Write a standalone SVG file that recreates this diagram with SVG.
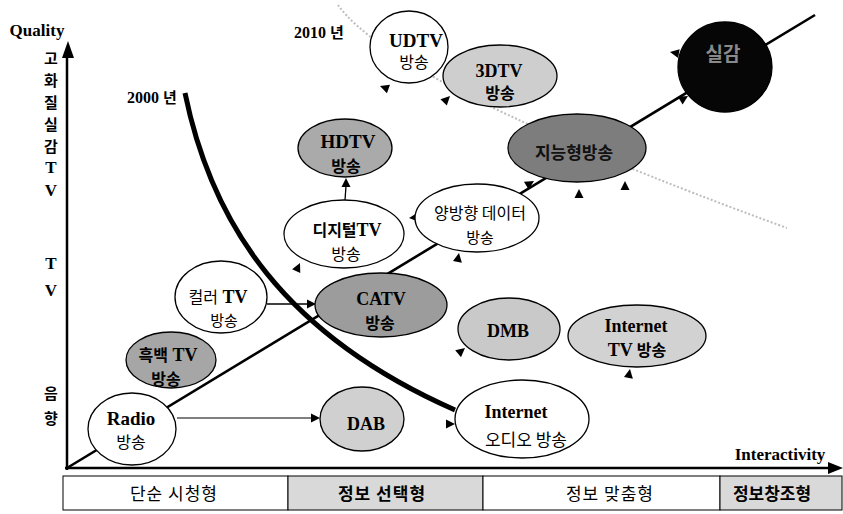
<svg xmlns="http://www.w3.org/2000/svg" width="843" height="514" viewBox="0 0 843 514">
<style>
.e{font-family:"Liberation Serif","Noto Sans CJK KR",serif;font-weight:bold;font-size:18px;fill:#000;text-anchor:middle}
.k{font-family:"Noto Sans CJK KR","Liberation Sans",sans-serif;font-size:16px;fill:#000;text-anchor:middle}
.kb{font-family:"Noto Sans CJK KR","Liberation Sans",sans-serif;font-weight:bold}
.n{stroke:#000;stroke-width:1.3}
.w{fill:#fff}
.ln{fill:none;stroke:#000}
</style>
<defs>
<path id="ah" d="M0,0 L-9,-4.5 L-9,4.5 Z"/>
</defs>
<rect width="843" height="514" fill="#fff"/>

<!-- faint 2010 curve -->
<path d="M338,5 Q395,85 787,228" fill="none" stroke="#bdbdbd" stroke-width="2" stroke-dasharray="2 2"/>

<g id="axes">
<line x1="67" y1="470" x2="67" y2="56" stroke="#000" stroke-width="2.5"/>
<polygon points="68,41 62,58 74,58" fill="#000"/>
<line x1="65" y1="468" x2="828" y2="468" stroke="#000" stroke-width="2.5"/>
<polygon points="843,468 828,462 828,474" fill="#000"/>
<text x="37" y="36" class="e" style="font-size:17px">Quality</text>
<text x="780" y="460" class="e" style="font-size:17px">Interactivity</text>
<g class="kb" style="font-size:15px;text-anchor:middle">
<text x="51" y="64">고</text>
<text x="51" y="86">화</text>
<text x="51" y="108">질</text>
<text x="51" y="130">실</text>
<text x="51" y="152">감</text>
<text x="51" y="399">음</text>
<text x="51" y="424">향</text>
</g>
<g class="e" style="font-size:17px">
<text x="51" y="173">T</text>
<text x="51" y="196">V</text>
<text x="51" y="269">T</text>
<text x="51" y="296">V</text>
</g>
<text x="152" y="103" class="e" style="font-size:16px">2000 <tspan class="kb" style="font-size:15px">년</tspan></text>
<text x="319" y="38" class="e" style="font-size:16px">2010 <tspan class="kb" style="font-size:15px">년</tspan></text>
</g>

<g id="connectors">
<line x1="67" y1="468" x2="815" y2="15" class="ln" stroke-width="2.6"/>
<line x1="267" y1="304" x2="308" y2="304" class="ln" stroke-width="1.3"/>
<use href="#ah" transform="translate(316,304)"/>
<line x1="177" y1="418" x2="312" y2="418" class="ln" stroke-width="1"/>
<use href="#ah" transform="translate(320,418)"/>
<line x1="345" y1="200" x2="346" y2="186" class="ln" stroke-width="1.3"/>
<use href="#ah" transform="translate(346,178) rotate(-90)"/>
<use href="#ah" transform="translate(380,86) rotate(200)"/>
<use href="#ah" transform="translate(450,96) rotate(-45)"/>
<use href="#ah" transform="translate(300,263) rotate(-65)"/>
<use href="#ah" transform="translate(409,218) rotate(175)"/>
<use href="#ah" transform="translate(459,253) rotate(-80)"/>
<use href="#ah" transform="translate(534,181) rotate(-31)"/>
<use href="#ah" transform="translate(579,189) rotate(-90)"/>
<use href="#ah" transform="translate(625,181) rotate(-90)"/>
<use href="#ah" transform="translate(670,52) rotate(190)"/>
<use href="#ah" transform="translate(688,96) rotate(-31)"/>
<use href="#ah" transform="translate(465,348) rotate(-40)"/>
<use href="#ah" transform="translate(630,369) rotate(-80)"/>
<use href="#ah" transform="translate(455,424) rotate(0)"/>
</g>

<g id="radio">
<ellipse cx="132" cy="429" rx="44" ry="36" class="n w"/>
<text x="131" y="425" class="e" style="font-size:19px">Radio</text>
<text x="131" y="448" class="k">방송</text>
</g>
<g id="bw-tv">
<ellipse cx="171" cy="360" rx="45" ry="28" class="n" fill="#a6a6a6"/>
<text x="168" y="361" class="e"><tspan class="kb" style="font-size:16px">흑백</tspan> TV</text>
<text x="166" y="385" class="k kb">방송</text>
</g>
<g id="color-tv">
<ellipse cx="221" cy="297" rx="46" ry="36" class="n w"/>
<text x="218" y="303" class="e"><tspan class="k" style="font-weight:normal;font-size:16px">컬러</tspan> TV</text>
<text x="224" y="326" class="k" style="font-size:15px">방송</text>
</g>
<g id="catv">
<ellipse cx="381" cy="305" rx="66" ry="32" class="n" fill="#9c9c9c"/>
<text x="381" y="305" class="e">CATV</text>
<text x="380" y="329" class="k kb">방송</text>
</g>
<g id="dab">
<ellipse cx="362" cy="419" rx="42" ry="32" class="n" fill="#d0d0d0"/>
<text x="366" y="430" class="e">DAB</text>
</g>
<g id="internet-audio">
<ellipse cx="522" cy="419" rx="67" ry="39" class="n w"/>
<text x="516" y="418" class="e">Internet</text>
<text x="526" y="446" class="k" style="font-size:17px">오디오 방송</text>
</g>
<g id="dmb">
<ellipse cx="509" cy="329" rx="51" ry="31" class="n" fill="#c9c9c9"/>
<text x="508" y="337" class="e">DMB</text>
</g>
<g id="internet-tv">
<ellipse cx="637" cy="336" rx="69" ry="31" class="n" fill="#d2d2d2"/>
<text x="636" y="332" class="e">Internet</text>
<text x="637" y="356" class="e">TV <tspan class="kb" style="font-size:16px">방송</tspan></text>
</g>
<g id="digital-tv">
<ellipse cx="344" cy="234" rx="60" ry="34" class="n w"/>
<text x="347" y="236" class="e"><tspan class="k" style="font-size:16px">디지털</tspan>TV</text>
<text x="346" y="260" class="k">방송</text>
</g>
<g id="two-way">
<ellipse cx="477" cy="218" rx="62" ry="34" class="n w"/>
<text x="480" y="219" class="k">양방향 데이터</text>
<text x="480" y="243" class="k" style="font-size:15px">방송</text>
</g>
<g id="hdtv">
<ellipse cx="345" cy="148" rx="47" ry="29" class="n" fill="#aaaaaa"/>
<text x="348" y="148" class="e" style="font-size:19px">HDTV</text>
<text x="346" y="172" class="k kb">방송</text>
</g>
<g id="udtv">
<ellipse cx="409" cy="47" rx="39" ry="36" class="n w"/>
<text x="416" y="47" class="e" style="font-size:19px">UDTV</text>
<text x="414" y="68" class="k">방송</text>
</g>
<g id="3dtv">
<ellipse cx="500" cy="76" rx="57" ry="31" class="n" fill="#cecece"/>
<text x="499" y="77" class="e">3DTV</text>
<text x="500" y="99" class="k kb">방송</text>
</g>
<g id="intelligent">
<ellipse cx="577" cy="148" rx="69" ry="34" class="n" fill="#7d7d7d"/>
<text x="574" y="159" class="k kb" style="font-size:17px;fill:#111">지능형방송</text>
</g>
<g id="realistic">
<ellipse cx="725" cy="67" rx="47" ry="45" class="n" fill="#060606"/>
<text x="723" y="61" class="k kb" style="font-size:19px;fill:#8a8a8a">실감</text>
</g>

<g id="curve-2000">
<path d="M185,93 C212,225 285,335 455,410" class="ln" stroke-width="5"/>
</g>

<g id="bar">
<rect x="63" y="476" width="225" height="34" fill="#fff" stroke="#000" stroke-width="1"/>
<rect x="288" y="476" width="195" height="34" fill="#d9d9d9" stroke="#000" stroke-width="1"/>
<rect x="483" y="476" width="237" height="34" fill="#fff" stroke="#000" stroke-width="1"/>
<rect x="720" y="476" width="122" height="34" fill="#d9d9d9" stroke="#000" stroke-width="1"/>
<text x="174" y="500" class="k" style="font-size:17px;letter-spacing:1px">단순 시청형</text>
<text x="382" y="500" class="k kb" style="font-size:17px;letter-spacing:1px">정보 선택형</text>
<text x="610" y="500" class="k" style="font-size:17px;letter-spacing:1px">정보 맞춤형</text>
<text x="772" y="500" class="k kb" style="font-size:17px">정보창조형</text>
</g>
</svg>
